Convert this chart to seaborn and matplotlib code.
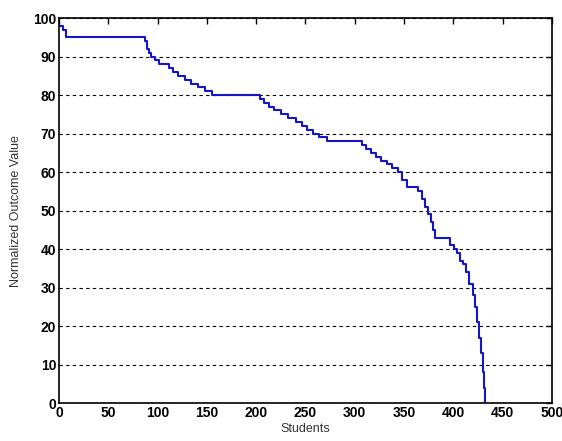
import matplotlib
matplotlib.use("Agg")
import matplotlib.pyplot as plt
import seaborn as sns
import pandas as pd
from matplotlib import font_manager

# Step breakpoints (student index where each value begins, sorted outcome value)
students = [0, 4, 7, 87, 89, 91, 93, 97, 101, 112, 116, 121, 128, 134, 141, 148,
            155, 204, 208, 213, 218, 225, 232, 240, 246, 252, 258, 264, 272, 307,
            311, 316, 322, 327, 333, 338, 344, 348, 353, 364, 368, 371, 374, 377,
            379, 381, 397, 401, 404, 407, 410, 413, 416, 420, 422, 424, 426, 428,
            430, 431, 432]
outcome = [98, 97, 95, 94, 92, 91, 90, 89, 88, 87, 86, 85, 84, 83, 82, 81,
           80, 79, 78, 77, 76, 75, 74, 73, 72, 71, 70, 69, 68, 67,
           66, 65, 64, 63, 62, 61, 60, 58, 56, 55, 53, 51, 49, 47,
           45, 43, 41, 40, 39, 37, 36, 34, 31, 28, 25, 21, 17, 13,
           8, 4, 0]

x_ticks = [0, 50, 100, 150, 200, 250, 300, 350, 400, 450, 500]
y_ticks = [0, 10, 20, 30, 40, 50, 60, 70, 80, 90, 100]

df = pd.DataFrame({"Students": students, "Outcome": outcome})

sns.set_style("white")
avail = {f.name for f in font_manager.fontManager.ttflist}
tick_family = ["Liberation Sans Narrow", "DejaVu Sans"] if "Liberation Sans Narrow" in avail else ["Liberation Sans", "DejaVu Sans"]
plt.rcParams["font.family"] = ["Liberation Sans", "DejaVu Sans"]

fig = plt.figure(figsize=(5.62, 4.41), dpi=100)
ax = fig.add_axes([0.105, 0.086, 0.877, 0.873])

sns.lineplot(data=df, x="Students", y="Outcome", ax=ax, color="#1515c8",
             linewidth=1.5, drawstyle="steps-post", estimator=None)

ax.set_xlim(0, 500)
ax.set_ylim(0, 100)
ax.set_xticks(x_ticks)
ax.set_yticks(y_ticks)
ax.set_xticklabels([str(t) for t in x_ticks], family=tick_family, weight="bold", fontsize=10)
ax.set_yticklabels([str(t) for t in y_ticks], family=tick_family, weight="bold", fontsize=10)
ax.tick_params(direction="in", top=True, right=True, length=4, width=1, pad=2, colors="black")

ax.yaxis.grid(True, linestyle=(0, (3, 3)), color="black", linewidth=0.8)
ax.xaxis.grid(False)
for s in ax.spines.values():
    s.set_visible(True)
    s.set_color("black")
    s.set_linewidth(1.2)

ax.set_xlabel("Students", fontsize=9, color="#333333", labelpad=2)
ax.set_ylabel("Normalized Outcome Value", fontsize=9, color="#333333", labelpad=8)

fig.savefig("out.png", dpi=100)
